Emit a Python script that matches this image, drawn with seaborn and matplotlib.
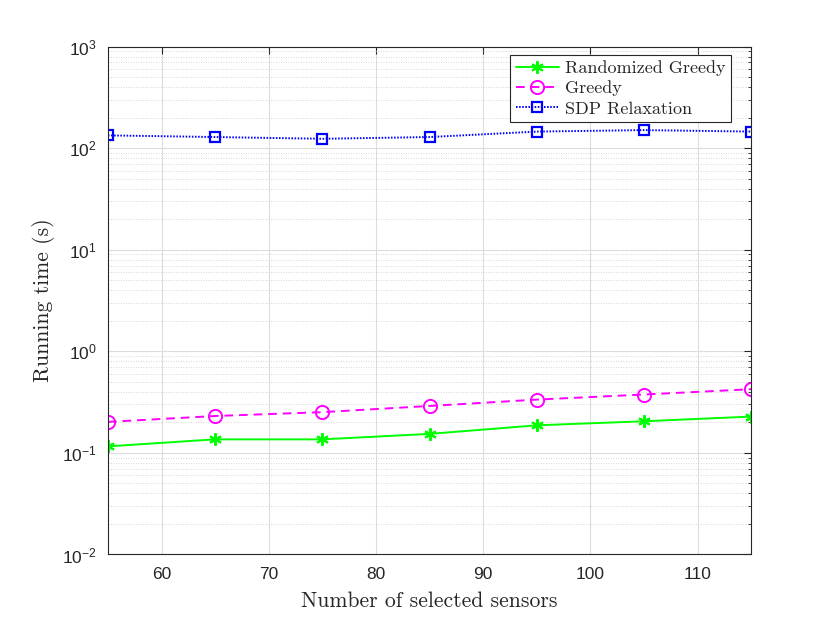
import numpy as np
import pandas as pd
import matplotlib
matplotlib.use("Agg")
import matplotlib.pyplot as plt
import seaborn as sns
from matplotlib.ticker import LogLocator, FixedLocator, NullFormatter

sensors = [55, 65, 75, 85, 95, 105, 115]
rand_greedy = [0.116, 0.136, 0.136, 0.154, 0.187, 0.205, 0.228]
greedy = [0.202, 0.231, 0.252, 0.290, 0.335, 0.376, 0.424]
sdp = [134, 129, 124, 129, 146, 151, 146]
series_names = ["Randomized Greedy", "Greedy", "SDP Relaxation"]
x_ticks = [60, 70, 80, 90, 100, 110]

sns.set_style("white")
plt.rcParams['font.family'] = ['Liberation Sans', 'DejaVu Sans']
plt.rcParams['mathtext.fontset'] = 'custom'
plt.rcParams['mathtext.rm'] = 'Liberation Sans'
plt.rcParams['mathtext.it'] = 'Liberation Sans'

SERIF = ['cmr10', 'Liberation Serif']

fig = plt.figure(figsize=(8.3, 6.23), dpi=100)
ax = fig.add_axes([0.13, 0.11, 0.775, 0.815])

styles = [
    dict(color=(0, 1, 0), marker=(6, 2, 0), linestyle='-', ms=9, mew=1.5),
    dict(color=(1, 0, 1), marker='o', linestyle=(0, (4.5, 3)), ms=9.5, mew=1.4),
    dict(color=(0, 0, 1), marker='s', linestyle=(0, (0.8, 0.8)), ms=7.5, mew=1.6),
]
for name, ys, st in zip(series_names, [rand_greedy, greedy, sdp], styles):
    df = pd.DataFrame({"x": sensors, "y": ys})
    sns.lineplot(data=df, x="x", y="y", ax=ax, label=name, lw=1.4,
                 color=st['color'], marker=st['marker'], linestyle=st['linestyle'],
                 markersize=st['ms'], markeredgewidth=st['mew'],
                 markerfacecolor='none', markeredgecolor=st['color'])

ax.set_yscale('log')
ax.set_xlim(55, 115)
ax.set_ylim(1e-2, 1e3)
ax.xaxis.set_major_locator(FixedLocator(x_ticks))
ax.yaxis.set_major_locator(LogLocator(base=10, numticks=10))
ax.yaxis.set_minor_locator(LogLocator(base=10, subs=np.arange(2, 10), numticks=20))
ax.yaxis.set_minor_formatter(NullFormatter())

ax.grid(True, which='major', axis='both', color='#dcdcdc', lw=0.8, ls='-')
ax.grid(True, which='minor', axis='y', color='#c8c8c8', lw=0.6, ls=(0, (1, 2)))
ax.set_axisbelow(True)

ax.tick_params(which='both', direction='in', top=True, right=True, colors='#262626',
               labelcolor='#262626', labelsize=12.5)
ax.tick_params(axis='x', which='major', pad=9)
ax.tick_params(axis='y', which='major', pad=8)
ax.tick_params(which='major', length=5, width=0.8)
ax.tick_params(which='minor', length=2.5, width=0.6)
for sp in ax.spines.values():
    sp.set_color('#262626')
    sp.set_linewidth(0.8)

ax.set_xlabel("Number of selected sensors", family=SERIF, fontsize=15.6, color='#262626')
ax.set_ylabel("Running time (s)", family=SERIF, fontsize=15.6, color='#262626')
ax.xaxis.set_label_coords(0.5, -0.0925)
ax.xaxis.label.set_va('center')
ax.yaxis.set_label_coords(-0.0995, 0.5)
ax.yaxis.label.set_va('center')

leg = ax.legend(loc='upper right', bbox_to_anchor=(0.969, 0.984),
                prop={'family': SERIF, 'size': 13},
                frameon=True, fancybox=False, edgecolor='#262626', framealpha=1,
                borderpad=0.3, handlelength=2.4, handletextpad=0.35,
                labelspacing=0.25, borderaxespad=0)
leg.get_frame().set_linewidth(0.8)

fig.savefig("out.png", dpi=100)
